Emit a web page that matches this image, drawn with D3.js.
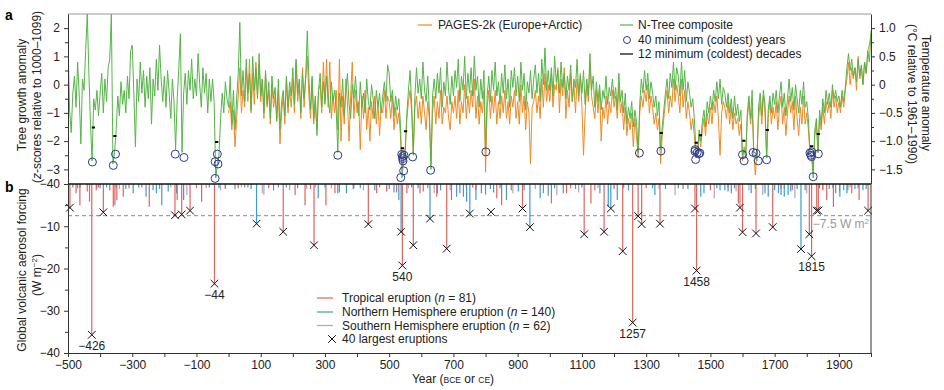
<!DOCTYPE html>
<html>
<head>
<meta charset="utf-8">
<script src="https://cdn.jsdelivr.net/npm/d3@7"></script>
<style>
  body { margin: 0; background: #fff; }
  text { font-family: "Liberation Sans", Arial, sans-serif; }
</style>
</head>
<body>
<script>
// N-Tree composite, z-scores, every 5 years from -500 to 2000
var nTree = [
  1.5, -0.9, -1.7, -0.3, 0.3, -0.8, 0.8, -0.4, -2.1, 0.2,
  -0.2, 1.2, 2.5, 0.4, -1.4, -2.7, -0.5, -0.9, -0.2, -1.1,
  -0.3, 0.4, -1.0, 0.2, -0.6, 0.6, 0.9, 2.5, -2.8, -2.4,
  -1.6, -0.4, -1.1, 0.1, -0.7, -0.2, -1.0, 0.3, -0.5, 1.2,
  1.4, -0.3, -2.2, 0.2, -0.6, 0.8, -0.3, 0.5, -0.8, 0.3,
  -0.5, 0.6, -1.4, 0.2, -0.4, 0.9, -0.2, 1.4, 0.2, -0.6,
  0.3, -0.8, 0.5, -0.3, -1.2, 0.2, -0.6, -2.3, -0.5, 0.6,
  1.8, -2.4, -0.3, 0.4, -0.7, 0.5, -0.2, 0.9, -0.5, 0.2,
  -0.4, 1.1, 0.0, -0.8, 0.6, -0.3, 0.4, -1.0, 0.2, -0.6,
  0.2, -0.6, -3.3, -2.8, -2.5, -1.2, -0.3, -1.0, 0.1, -0.5,
  -0.8, 0.3, -1.4, -0.2, -1.6, -0.5, 0.4, 2.2, -0.4, 0.5,
  -0.6, 0.9, -0.3, 0.4, -0.9, 1.0, -0.2, 0.6, -0.5, 1.1,
  -0.4, 0.2, -1.0, 0.5, -0.7, 0.1, -1.2, 0.3, -0.5, -0.1,
  -1.3, 0.2, -1.6, -0.6, -0.2, -1.1, 0.3, -0.8, 0.1, -0.4,
  0.6, -0.7, 0.9, -0.3, 0.2, -1.0, 0.4, -0.5, 0.3, 1.9,
  0.2, -0.9, 0.3, -1.2, -0.4, -1.8, -0.2, 0.4, -0.8, 0.1,
  -0.7, 0.3, -0.5, -1.0, 0.1, -0.6, -0.2, -0.9, -2.4, -0.3,
  -0.8, 0.2, -1.1, -0.3, 0.4, -0.7, -1.2, 0.0, -0.5, 0.3,
  -0.6, -1.1, 0.1, -0.8, -0.3, -1.0, 0.2, -0.6, -0.9, 0.0,
  -0.5, -1.2, -0.2, -0.8, -0.3, -1.0, -0.4, 0.1, -0.6, 0.7,
  0.4, -0.6, -0.2, -1.1, -0.4, -0.9, -0.5, -1.4, -3.3, -2.6,
  -2.4, -1.0, -0.2, 0.5, -0.7, -2.5, -0.4, 0.6, -0.3, 0.2,
  -0.5, 0.8, -0.2, -0.6, 0.3, -0.9, -3.0, -0.4, 0.2, -0.5,
  0.4, -0.3, 0.6, -0.8, 0.1, -0.4, 0.8, -0.2, -0.7, 0.3,
  -0.4, 0.5, -0.1, 0.9, -0.6, 0.3, -0.2, 1.0, -0.5, 0.4,
  -0.3, 0.6, -0.4, 1.0, -0.2, 0.3, -0.8, 0.2, -0.5, 0.5,
  -2.3, -0.4, 0.3, -0.6, 0.5, -0.2, 0.8, -0.4, 0.1, -0.7,
  0.4, -0.3, 0.7, -0.5, 0.2, -0.8, 0.5, -0.1, 0.6, -0.4,
  0.3, -0.6, 0.8, -0.2, 0.4, -0.9, 0.1, -0.3, 0.5, -0.5,
  0.2, 0.7, -0.3, 0.4, -0.6, 0.9, 0.0, 1.3, -0.2, 0.5,
  -0.2, 0.6, -0.4, 1.0, 0.1, 0.5, -0.3, 0.8, -0.1, 0.4,
  -0.5, 0.3, -0.2, 0.7, -0.6, 0.2, -0.1, 0.9, -0.4, 0.3,
  -0.3, 0.5, -0.7, 0.2, -0.4, 1.1, -0.2, 0.3, -0.8, 0.1,
  -0.6, 0.0, -0.9, -0.2, -0.5, 0.3, -0.7, -0.1, -0.4, 0.2,
  -0.5, -0.1, -0.9, 0.4, -0.6, -0.2, -1.0, -0.3, -1.4, -0.8,
  -1.2, -0.6, -1.5, -0.9, -1.3, -2.4, -0.7, 0.2, -0.3, 0.5,
  -0.2, 0.4, -0.5, 0.1, -0.3, -0.8, -0.4, -1.1, -0.6, -2.3,
  -1.5, -0.9, -0.3, 0.2, -0.5, 0.4, -0.1, 0.8, -0.2, 0.6,
  0.3, -0.4, 0.8, -0.2, 0.5, -0.6, 0.1, -0.3, -0.8, -0.5,
  -1.2, -2.3, -2.4, -1.6, -2.0, -1.3, -0.9, -1.5, -0.6, -1.0,
  -0.4, -0.9, -0.2, -0.6, 0.1, -0.5, 0.2, -0.7, -0.1, -0.3,
  -0.8, -0.3, -1.0, -0.5, -1.2, -0.4, -1.1, -0.7, -1.3, -0.9,
  -2.5, -2.3, -2.6, -1.0, -0.4, -1.2, -0.2, -2.4, -2.4, -2.7,
  -0.8, -0.3, -1.1, -0.2, -0.7, -2.6, -0.9, -0.4, -1.0, -0.3,
  -0.7, -0.2, -1.0, -0.4, 0.1, -0.8, -0.3, -1.1, -0.5, 0.2,
  -0.6, -0.1, -0.9, 0.0, -0.5, -1.0, -0.2, -0.7, 0.1, -0.8,
  -0.6, -1.2, -2.4, -2.5, -3.3, -1.6, -1.2, -2.4, -0.9, -1.4,
  -0.5, -1.0, -0.2, -0.7, -0.3, -0.8, 0.0, -0.5, -0.2, -0.6,
  -0.4, -0.8, -0.2, -0.6, -0.1, 0.6, 1.1, 0.5, 0.9, 0.3,
  0.6, 0.1, 0.9, 0.3, 0.7, 0.0, 0.8, 0.4, 1.2, 0.8, 1.9
];

// PAGES-2k Europe+Arctic, degC, every 5 years from 0 to 2000
var pages2k = [
  -0.5, -0.3, -0.8, -0.45, -1.1, -0.6, -0.2, 0.3, -0.5, -0.1,
  -0.4, 0.3, -0.3, 0.45, -0.5, 0.2, -0.35, 0.4, -0.2, 0.35,
  -0.3, 0.1, -0.6, 0.2, -0.4, -0.1, -0.7, 0.0, -0.4, -0.2,
  -0.6, -0.1, -1.05, -0.5, -0.2, -0.7, 0.1, -0.5, -0.1, -0.4,
  0.1, -0.5, 0.4, -0.3, 0.0, -0.6, 0.3, -0.4, 0.1, 0.5,
  -0.2, -0.6, 0.1, -0.7, -0.3, -0.8, -0.1, 0.0, -0.5, 0.4,
  -0.3, 0.45, -0.4, 0.4, -0.6, -0.2, -0.5, -0.1, -0.8, 0.45,
  -1.0, -0.2, -0.7, 0.1, -0.3, -1.0, -0.2, 0.4, -0.6, -0.1,
  -0.5, -0.3, -1.15, -0.2, -0.6, -0.1, -0.8, -0.4, -1.0, -0.3,
  -0.6, -0.2, -0.7, -0.3, -0.9, -0.4, -0.5, -0.1, -0.6, -0.2,
  -0.3, -0.6, -0.2, -0.8, -0.4, -0.7, -0.5, -0.9, -1.5, -1.2,
  -1.1, -0.6, -0.3, -0.1, -0.5, -1.2, -0.4, -0.2, -0.6, -0.3,
  -0.7, -0.2, -0.5, -0.8, -0.3, -0.6, -1.4, -0.5, -0.2, -0.7,
  -0.3, -0.6, -0.1, -0.7, -0.4, -0.5, -0.2, -0.6, -0.8, -0.3,
  -0.5, -0.2, -0.6, -0.1, -0.7, -0.3, -0.5, 0.0, -0.6, -0.2,
  -0.5, -0.1, -0.4, 0.1, -0.6, -0.2, -0.7, -0.3, -0.5, -0.1,
  -1.55, -0.4, -0.1, -0.6, -0.2, -0.5, -0.1, -0.7, -0.3, -0.6,
  -0.2, -0.5, -0.1, -0.6, -0.3, -0.7, -0.2, -0.4, -0.1, -0.6,
  -0.3, -0.7, 0.0, -0.5, -0.2, -0.8, -0.3, -0.5, -1.4, -0.4,
  -0.3, -0.1, -0.5, -0.2, -0.6, 0.1, -0.4, 0.2, -0.3, 0.0,
  -0.3, 0.2, -0.4, 0.0, -0.1, 0.3, -0.5, 0.1, -0.2, 0.3,
  -0.6, -0.1, -0.4, 0.2, -0.3, 0.0, -0.5, 0.1, -0.3, 0.2,
  -0.4, -1.25, -0.5, 0.0, -0.3, 0.4, -0.2, -0.4, -0.6, -0.1,
  -0.5, -0.1, -1.0, -0.4, -0.6, -0.2, -0.7, -0.3, -0.5, -0.1,
  -0.4, -0.2, -0.6, 0.0, -0.5, -0.3, -0.8, -0.4, -0.9, -0.6,
  -0.8, -0.5, -1.1, -0.6, -0.9, -1.3, -0.5, -0.2, -0.4, -0.1,
  -0.3, 0.0, -0.5, -0.2, -0.4, -0.7, -0.5, -0.8, -0.6, -1.4,
  -0.9, -0.6, -0.3, -0.1, -0.5, -0.2, -0.4, 0.1, -0.3, 0.0,
  -0.2, -0.5, 0.1, -0.4, -0.1, -0.6, -0.3, -0.5, -0.8, -0.6,
  -0.9, -1.3, -1.2, -0.9, -1.1, -0.8, -0.6, -0.9, -0.5, -0.7,
  -0.4, -0.7, -0.3, -0.5, -0.2, -0.6, -1.25, -0.5, -0.3, -0.4,
  -0.6, -0.3, -0.7, -0.4, -0.8, -0.5, -0.7, -0.6, -0.9, -0.7,
  -1.35, -1.1, -1.2, -0.6, -0.3, -0.7, -0.4, -1.2, -1.6, -1.2,
  -0.6, -0.3, -0.7, -0.2, -0.5, -1.3, -0.6, -0.3, -0.7, -0.4,
  -0.6, -0.3, -0.8, -0.4, -0.2, -0.7, -0.4, -0.9, -0.5, -0.2,
  -0.5, -0.3, -0.8, -0.2, -0.6, -0.9, -0.4, -0.7, -0.2, -0.7,
  -0.5, -0.8, -1.2, -1.25, -1.5, -0.9, -0.7, -1.2, -0.6, -0.8,
  -0.4, -0.7, -0.3, -0.5, -0.3, -0.6, -0.1, -0.4, -0.2, -0.5,
  -0.3, -0.5, -0.2, -0.4, -0.1, 0.1, 0.4, 0.0, 0.3, 0.1,
  0.3, -0.1, 0.5, 0.1, 0.3, 0.0, 0.4, 0.2, 0.6, 0.7, 0.9
];

// 40 coldest years [year, z]
var coldYears = [
  [-424, -2.74], [-359, -2.86], [-352, -2.46], [-166, -2.46], [-139, -2.58],
  [-42, -2.73], [-42, -3.32], [-35, -2.46], [-33, -2.81], [340, -2.50],
  [536, -3.29], [539, -2.47], [541, -2.55], [542, -2.62], [543, -2.70],
  [545, -3.05], [546, -2.50], [573, -2.56], [629, -3.03], [801, -2.38],
  [1279, -2.42], [1346, -2.35], [1452, -2.36], [1453, -2.30], [1454, -2.65],
  [1459, -2.40], [1464, -2.45], [1467, -2.42], [1600, -2.48], [1605, -2.70],
  [1633, -2.40], [1642, -2.43], [1649, -2.70], [1675, -2.66], [1810, -2.42],
  [1813, -2.50], [1815, -2.55], [1816, -2.38], [1820, -3.26], [1836, -2.45]
];

// 12 coldest decades [first year, z]
var coldDecades = [
  [-426, -1.52], [-359, -1.82], [-42, -2.03], [536, -2.25], [546, -1.65],
  [1342, -1.71], [1451, -2.06], [1464, -1.79], [1599, -1.99], [1672, -1.61],
  [1810, -2.18], [1831, -1.75]
];

// volcanic forcing [year, W m-2]
var tropical = [
  [-494, -5.6], [-475, -2.2], [-470, -1.0], [-463, -5.0], [-440, -1.8], [-433, -4.2],
  [-426, -35.7], [-412, -1.5], [-405, -0.8], [-390, -6.7], [-370, -1.5], [-359, -5.4],
  [-354, -5.0], [-348, -3.8], [-328, -3.0], [-310, -1.0], [-270, -0.8], [-247, -5.4],
  [-215, -1.2], [-167, -7.4], [-160, -3.8], [-146, -7.2], [-120, -6.3], [-100, -1.0],
  [-84, -4.2], [-44, -23.6], [-10, -1.2], [30, -1.0], [60, -0.8], [125, -1.0],
  [170, -11.3], [207, -2.6], [238, -5.0], [255, -1.2], [266, -14.5], [303, -5.0],
  [331, -2.2], [345, -2.0], [390, -1.0], [435, -9.5], [461, -2.2], [470, -0.8],
  [492, -1.8], [523, -2.0], [541, -19.3], [555, -2.2], [575, -14.5], [596, -2.2],
  [606, -1.8], [620, -1.0], [648, -3.0], [679, -15.3], [694, -3.8], [731, -3.0],
  [760, -0.8], [770, -1.5], [835, -3.4], [850, -5.0], [880, -1.5], [915, -5.8],
  [980, -2.2], [1005, -4.6], [1052, -2.2], [1065, -1.0], [1107, -11.9], [1128, -4.6],
  [1140, -1.5], [1169, -11.3], [1200, -1.2], [1227, -15.9], [1258, -32.8], [1275, -7.6],
  [1286, -9.5], [1300, -1.0], [1343, -9.4], [1415, -1.2], [1452, -5.8], [1457, -20.5],
  [1500, -1.5], [1555, -1.0], [1587, -4.6], [1592, -5.6], [1600, -11.4], [1642, -11.7],
  [1694, -10.2], [1720, -1.2], [1755, -1.5], [1808, -11.9], [1815, -17.1], [1831, -6.3],
  [1836, -6.3], [1850, -1.5], [1862, -3.8], [1883, -5.4], [1902, -1.8], [1928, -1.5],
  [1940, -2.2], [1963, -3.8], [1991, -6.3]
];
var northern = [
  [-485, -0.8], [-462, -0.8], [-400, -1.0], [-380, -0.8], [-350, -0.8], [-320, -1.2],
  [-297, -2.2], [-280, -0.8], [-257, -3.0], [-235, -1.5], [-225, -2.2], [-208, -5.0],
  [-188, -1.8], [-162, -2.2], [-140, -3.8], [-60, -0.8], [-30, -1.0], [-10, -1.0],
  [20, -1.2], [50, -0.8], [70, -1.2], [87, -9.4], [140, -1.5], [155, -0.8],
  [180, -0.8], [215, -1.0], [279, -3.4], [300, -0.8], [340, -2.2], [367, -2.2],
  [388, -1.2], [410, -1.0], [455, -1.5], [500, -1.2], [515, -2.0], [530, -3.8],
  [537, -11.3], [570, -0.8], [590, -1.0], [627, -8.2], [650, -2.2], [660, -1.5],
  [710, -3.0], [720, -2.2], [741, -4.2], [751, -7.0], [770, -3.8], [787, -2.2],
  [800, -2.5], [815, -1.2], [825, -2.0], [845, -1.0], [865, -3.8], [902, -1.8],
  [920, -1.5], [938, -10.2], [970, -3.4], [995, -2.8], [1015, -1.0], [1042, -2.2],
  [1080, -1.2], [1100, -0.8], [1156, -2.2], [1182, -5.4], [1190, -5.8], [1210, -3.8],
  [1230, -1.0], [1245, -1.5], [1320, -1.0], [1327, -2.6], [1360, -1.2], [1400, -1.0],
  [1430, -1.2], [1470, -3.0], [1480, -2.2], [1520, -1.0], [1530, -1.5], [1545, -1.5],
  [1555, -1.8], [1565, -2.2], [1575, -1.0], [1627, -2.2], [1640, -1.2], [1670, -2.2],
  [1680, -3.0], [1700, -1.5], [1712, -2.2], [1720, -2.6], [1730, -3.0], [1742, -2.6],
  [1750, -1.8], [1770, -1.2], [1782, -15.4], [1795, -1.5], [1840, -1.0], [1870, -1.2],
  [1890, -2.2], [1903, -3.0], [1915, -1.5], [1925, -2.2], [1950, -1.2], [1960, -1.0],
  [1975, -1.5], [1985, -1.2]
];
var southern = [
  [-410, -1.0], [-340, -1.2], [-180, -0.8], [-130, -2.6], [-70, -1.0], [-25, -1.5],
  [40, -0.8], [105, -2.2], [110, -2.6], [190, -1.5], [243, -1.2], [270, -0.8],
  [320, -1.0], [420, -1.5], [560, -1.0], [640, -2.2], [690, -1.5], [740, -1.0],
  [885, -2.2], [955, -1.2], [1022, -2.6], [1090, -2.0], [1150, -1.0], [1340, -1.2],
  [1390, -2.6], [1512, -3.4], [1580, -1.8], [1620, -1.5], [1663, -2.6], [1730, -1.0],
  [1763, -3.4], [1800, -2.2], [1830, -0.8], [1850, -1.2], [1880, -1.0], [1935, -0.8]
];

// 40 largest eruptions [year, W m-2]
var largest = [
  [-494, -5.6], [-426, -35.7], [-390, -6.7], [-167, -7.4], [-146, -7.2], [-120, -6.3],
  [-44, -23.6], [87, -9.4], [170, -11.3], [266, -14.5], [435, -9.5], [537, -11.3],
  [541, -19.3], [575, -14.5], [627, -8.2], [679, -15.3], [751, -7.0], [817, -6.6],
  [915, -5.8], [938, -10.2], [1107, -11.9], [1169, -11.3], [1190, -5.8], [1227, -15.9],
  [1258, -32.8], [1275, -7.6], [1286, -9.5], [1343, -9.4], [1452, -5.8], [1457, -20.5],
  [1592, -5.6], [1600, -11.4], [1642, -11.7], [1694, -10.2], [1782, -15.4], [1808, -11.9],
  [1815, -17.1], [1831, -6.3], [1836, -6.3], [1991, -6.3]
];
var labelled = [
  ["\u2212426", -426, -35.7], ["\u221244", -44, -23.6], ["540", 541, -19.3],
  ["1257", 1258, -32.8], ["1458", 1457, -20.5], ["1815", 1815, -17.1]
];

var yearTicks = [-500, -300, -100, 100, 300, 500, 700, 900, 1100, 1300, 1500, 1700, 1900];
var zTicks = [-3, -2, -1, 0, 1, 2];
var tempTicks = [-1.5, -1, -0.5, 0, 0.5, 1];
var forcingTicks = [0, -10, -20, -30, -40];
var forcingLabels = ["\u221240", "\u221210", "\u221220", "\u221230", "\u221240"];

var green = "#55b447", orange = "#ef8a24", navy = "#2b3a8c";
var cRed = "#e0645c", cBlue = "#3c9bcf", cSouth = "#b3a2c0";

var svg = d3.select("body").append("svg")
    .attr("width", 944)
    .attr("height", 390);

var x = d3.scaleLinear().domain([-500, 2000]).range([68, 871]);
var yA = d3.scaleLinear().domain([-3.5, 2.5]).range([183.5, 14]);
var yT = d3.scaleLinear().domain([-1.75, 1.25]).range([183.5, 14]);
var yB = d3.scaleLinear().domain([-40, 0]).range([353, 184]);

svg.append("clipPath").attr("id", "clipA")
    .append("rect").attr("x", 68).attr("y", 14).attr("width", 803).attr("height", 169.5);

function styleAxis(g) {
    g.select(".domain").attr("stroke", "#333");
    g.selectAll(".tick line").attr("stroke", "#333");
    g.selectAll(".tick text").style("font-size", "12px").attr("fill", "#222")
        .style("font-family", "'Liberation Sans', Arial, sans-serif");
}
function minor(g) {
    g.select(".domain").remove();
    g.selectAll("line").attr("stroke", "#333");
}

// panel a series
var ntData = nTree.map(function(v, i) { return [-500 + i * 5, v]; });
var pgData = pages2k.map(function(v, i) { return [i * 5, v]; });

var panelA = svg.append("g").attr("clip-path", "url(#clipA)");

panelA.append("path")
    .datum(pgData)
    .attr("fill", "none")
    .attr("stroke", orange)
    .attr("stroke-width", 1)
    .attr("d", d3.line().x(function(d) { return x(d[0]); }).y(function(d) { return yT(d[1]); }));

panelA.append("path")
    .datum(ntData)
    .attr("fill", "none")
    .attr("stroke", green)
    .attr("stroke-width", 1)
    .attr("d", d3.line().x(function(d) { return x(d[0]); }).y(function(d) { return yA(d[1]); }));

panelA.selectAll(".dec")
    .data(coldDecades)
    .enter().append("line")
    .attr("x1", function(d) { return x(d[0]); })
    .attr("x2", function(d) { return x(d[0] + 10); })
    .attr("y1", function(d) { return yA(d[1]); })
    .attr("y2", function(d) { return yA(d[1]); })
    .attr("stroke", "#000")
    .attr("stroke-width", 2);

svg.selectAll(".cold")
    .data(coldYears)
    .enter().append("circle")
    .attr("cx", function(d) { return x(d[0]); })
    .attr("cy", function(d) { return yA(d[1]); })
    .attr("r", 4)
    .attr("fill", "none")
    .attr("stroke", navy)
    .attr("stroke-width", 1);

// panel a axes
svg.append("line").attr("x1", 68).attr("x2", 871).attr("y1", 14).attr("y2", 14)
    .attr("stroke", "#999").attr("stroke-width", 1.2);

svg.append("g").attr("transform", "translate(68,0)")
    .call(d3.axisLeft(yA).tickValues(zTicks).tickFormat(d3.format("d"))
        .tickSize(4).tickSizeOuter(0).tickPadding(4))
    .call(styleAxis);
svg.append("g").attr("transform", "translate(68,0)")
    .call(d3.axisLeft(yA).tickValues([-2.5, -1.5, -0.5, 0.5, 1.5]).tickSize(3).tickFormat(""))
    .call(minor);

svg.append("g").attr("transform", "translate(871,0)")
    .call(d3.axisRight(yT).tickValues(tempTicks)
        .tickFormat(function(d) { return d === 0 ? "0" : d3.format(".1f")(d); })
        .tickSize(4).tickSizeOuter(0).tickPadding(4))
    .call(styleAxis);
svg.append("g").attr("transform", "translate(871,0)")
    .call(d3.axisRight(yT).tickValues([-1.25, -0.75, -0.25, 0.25, 0.75]).tickSize(3).tickFormat(""))
    .call(minor);

// panel b bars
function bars(data, color) {
    svg.append("g").selectAll("line")
        .data(data)
        .enter().append("line")
        .attr("x1", function(d) { return x(d[0]); })
        .attr("x2", function(d) { return x(d[0]); })
        .attr("y1", yB(0))
        .attr("y2", function(d) { return yB(d[1]); })
        .attr("stroke", color)
        .attr("stroke-width", 1.2);
}
bars(southern, cSouth);
bars(northern, cBlue);
bars(tropical, cRed);

svg.append("line")
    .attr("x1", 68).attr("x2", 871)
    .attr("y1", yB(-7.5)).attr("y2", yB(-7.5))
    .attr("stroke", "#888").attr("stroke-width", 1)
    .attr("stroke-dasharray", "4,3");

var cross = d3.symbol().type(d3.symbolTimes).size(40);
svg.selectAll(".big")
    .data(largest)
    .enter().append("path")
    .attr("d", cross)
    .attr("transform", function(d) { return "translate(" + x(d[0]) + "," + yB(d[1]) + ")"; })
    .attr("fill", "none")
    .attr("stroke", "#111")
    .attr("stroke-width", 1);

svg.selectAll(".lab")
    .data(labelled)
    .enter().append("text")
    .attr("x", function(d) { return x(d[1]); })
    .attr("y", function(d) { return yB(d[2]) + 15; })
    .attr("text-anchor", "middle")
    .style("font-size", "12px")
    .attr("fill", "#222")
    .text(function(d) { return d[0]; });

var thr = svg.append("text")
    .attr("x", 869).attr("y", yB(-7.5) + 12)
    .attr("text-anchor", "end")
    .style("font-size", "12px")
    .attr("fill", "#999");
thr.append("tspan").text("\u22127.5 W m");
thr.append("tspan").attr("dy", -4).style("font-size", "8px").text("2");

// panel b axes
svg.append("line").attr("x1", 68).attr("x2", 871).attr("y1", 184).attr("y2", 184)
    .attr("stroke", "#111").attr("stroke-width", 1.5);

svg.append("g").attr("transform", "translate(68,0)")
    .call(d3.axisLeft(yB).tickValues(forcingTicks).tickSize(4).tickSizeOuter(0).tickPadding(4)
        .tickFormat(function(d, i) { return forcingLabels[i]; }))
    .call(styleAxis);
svg.append("g").attr("transform", "translate(68,0)")
    .call(d3.axisLeft(yB).tickValues([-5, -15, -25, -35]).tickSize(3).tickFormat(""))
    .call(minor);

svg.append("line").attr("x1", 871).attr("x2", 871).attr("y1", 184).attr("y2", 353)
    .attr("stroke", "#333");

svg.append("g").attr("transform", "translate(0,353)")
    .call(d3.axisBottom(x).tickValues(yearTicks).tickFormat(d3.format("d")).tickSize(4).tickSizeOuter(0).tickPadding(3))
    .call(styleAxis);
svg.append("g").attr("transform", "translate(0,353)")
    .call(d3.axisBottom(x).tickValues(d3.range(-400, 2001, 200)).tickSize(4).tickFormat(""))
    .call(minor);

// axis titles
var xt = svg.append("text").attr("x", 453).attr("y", 383)
    .attr("text-anchor", "middle").style("font-size", "12px").attr("fill", "#222");
xt.append("tspan").text("Year (");
xt.append("tspan").style("font-size", "8.5px").text("BCE");
xt.append("tspan").text(" or ");
xt.append("tspan").style("font-size", "8.5px").text("CE");
xt.append("tspan").text(")");

svg.append("text")
    .attr("transform", "translate(26,95) rotate(-90)")
    .attr("text-anchor", "middle").style("font-size", "12px").attr("fill", "#222")
    .text("Tree growth anomaly");
var yl2 = svg.append("text")
    .attr("transform", "translate(41,97) rotate(-90)")
    .attr("text-anchor", "middle").style("font-size", "12px").attr("fill", "#222");
yl2.append("tspan").text("(");
yl2.append("tspan").style("font-style", "italic").text("z");
yl2.append("tspan").text("-scores relative to 1000\u20131099)");

svg.append("text")
    .attr("transform", "translate(26,270) rotate(-90)")
    .attr("text-anchor", "middle").style("font-size", "12px").attr("fill", "#222")
    .text("Global volcanic aerosol forcing");
var bl2 = svg.append("text")
    .attr("transform", "translate(41,275) rotate(-90)")
    .attr("text-anchor", "middle").style("font-size", "12px").attr("fill", "#222");
bl2.append("tspan").text("(W m");
bl2.append("tspan").attr("dy", -4).style("font-size", "8px").text("\u22122");
bl2.append("tspan").attr("dy", 4).text(")");

svg.append("text")
    .attr("transform", "translate(922,93) rotate(90)")
    .attr("text-anchor", "middle").style("font-size", "12px").attr("fill", "#222")
    .text("Temperature anomaly");
svg.append("text")
    .attr("transform", "translate(908,94) rotate(90)")
    .attr("text-anchor", "middle").style("font-size", "12px").attr("fill", "#222")
    .text("(\u00b0C relative to 1961\u20131990)");

svg.append("text").attr("x", 5).attr("y", 20).style("font-size", "14px").style("font-weight", "bold").text("a");
svg.append("text").attr("x", 5).attr("y", 192).style("font-size", "14px").style("font-weight", "bold").text("b");

// legend a
var legA = svg.append("g").style("font-size", "12px").attr("fill", "#222");
legA.append("line").attr("x1", 418).attr("x2", 432).attr("y1", 25).attr("y2", 25).attr("stroke", orange).attr("stroke-width", 1.2);
legA.append("text").attr("x", 438).attr("y", 29).text("PAGES-2k (Europe+Arctic)");
legA.append("line").attr("x1", 620).attr("x2", 633).attr("y1", 25).attr("y2", 25).attr("stroke", green).attr("stroke-width", 1.2);
legA.append("text").attr("x", 638).attr("y", 29).text("N-Tree composite");
legA.append("circle").attr("cx", 627).attr("cy", 40).attr("r", 3.5).attr("fill", "none").attr("stroke", navy);
legA.append("text").attr("x", 638).attr("y", 44).text("40 minimum (coldest) years");
legA.append("line").attr("x1", 620).attr("x2", 633).attr("y1", 54).attr("y2", 54).attr("stroke", "#000").attr("stroke-width", 1.2);
legA.append("text").attr("x", 638).attr("y", 58).text("12 minimum (coldest) decades");

// legend b
var legB = svg.append("g").style("font-size", "12px").attr("fill", "#222");
var legItems = [["Tropical eruption (", "81)", cRed, 298], ["Northern Hemisphere eruption (", "140)", cBlue, 312], ["Southern Hemisphere eruption (", "62)", cSouth, 325.5]];
legItems.forEach(function(it) {
    legB.append("line").attr("x1", 317).attr("x2", 333).attr("y1", it[3]).attr("y2", it[3]).attr("stroke", it[2]).attr("stroke-width", 1.2);
    var t = legB.append("text").attr("x", 342).attr("y", it[3] + 4);
    t.append("tspan").text(it[0]);
    t.append("tspan").style("font-style", "italic").text("n");
    t.append("tspan").text(" = " + it[1]);
});
legB.append("path").attr("d", cross).attr("transform", "translate(332,339)").attr("fill", "none").attr("stroke", "#111");
legB.append("text").attr("x", 342).attr("y", 343).text("40 largest eruptions");
</script>
</body>
</html>
